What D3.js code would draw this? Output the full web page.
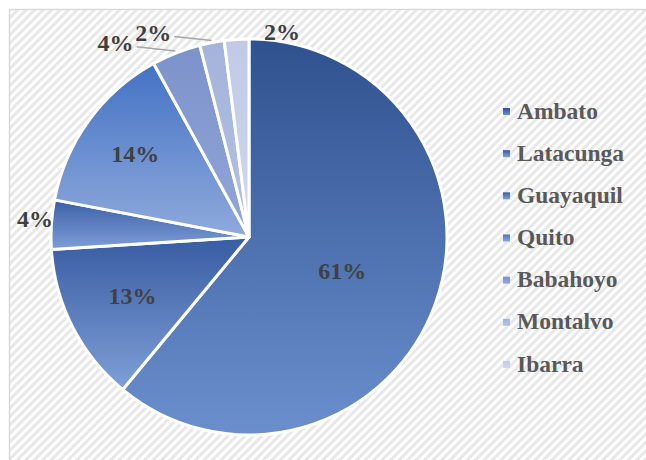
<!DOCTYPE html>
<html>
<head>
<meta charset="utf-8">
<script src="https://cdn.jsdelivr.net/npm/d3@7"></script>
<style>
  html, body { margin: 0; padding: 0; background: #fff; }
  svg { display: block; }
  text { font-family: "Liberation Serif", serif; font-weight: bold; }
</style>
</head>
<body>
<svg id="chart" width="646" height="460"></svg>
<script>
// Share of respondents by city (%)
const cities = ["Ambato", "Latacunga", "Guayaquil", "Quito", "Babahoyo", "Montalvo", "Ibarra"];
const shares = [61, 13, 4, 14, 4, 2, 2];

// Slice shading: each slice fades from a darker top to a lighter bottom
const shadeTop    = ["#2f528f", "#385ca2", "#3b60a8", "#4472c4", "#7c92ca", "#a4b3da", "#c0cae6"];
const shadeBottom = ["#6a8fcc", "#7f9fd6", "#7f9ed6", "#8faadc", "#92a6d8", "#b4c1e3", "#d0d8ee"];

// Label placement around the pie: radius as a fraction of R, optional angle shift (deg), leader line
const labelPlace = [
  { r: 0.50 },
  { r: 0.66 },
  { r: 1.085, da: 1.2 },
  { r: 0.71 },
  { r: 1.19, da: -12.9, leader: true },
  { r: 1.14, da: -14.3, leader: true },
  { r: 1.05, da: 12.7 }
];

const svg = d3.select("#chart");
const W = 646, H = 460;
const cx = 249, cy = 237, R = 198;

const defs = svg.append("defs");

// Diagonal hatch for the chart area
const pat = defs.append("pattern")
  .attr("id", "hatch")
  .attr("patternUnits", "userSpaceOnUse")
  .attr("width", 6).attr("height", 6)
  .attr("patternTransform", "rotate(-45)");
pat.append("rect").attr("width", 6).attr("height", 6).attr("fill", "#ffffff");
pat.append("rect").attr("width", 6).attr("height", 3).attr("fill", "#e8e8e8");

cities.forEach((c, i) => {
  const g = defs.append("linearGradient")
    .attr("id", "grad" + i)
    .attr("x1", 0).attr("y1", 0).attr("x2", 0).attr("y2", 1);
  g.append("stop").attr("offset", "0%").attr("stop-color", shadeTop[i]);
  g.append("stop").attr("offset", "100%").attr("stop-color", shadeBottom[i]);
});

// Chart area frame
svg.append("rect")
  .attr("x", 9.5).attr("y", 9.5)
  .attr("width", W + 40).attr("height", H + 40)
  .attr("fill", "url(#hatch)")
  .attr("stroke", "#d9d9d9")
  .attr("stroke-width", 1.5);

const data = cities.map((c, i) => ({ city: c, value: shares[i], i }));

const pie = d3.pie().value(d => d.value).sort(null);
const arcs = pie(data);
const arc = d3.arc().innerRadius(0).outerRadius(R);

const gPie = svg.append("g").attr("transform", `translate(${cx},${cy})`);

gPie.selectAll("path.slice")
  .data(arcs)
  .join("path")
  .attr("class", "slice")
  .attr("d", arc)
  .attr("fill", d => `url(#grad${d.data.i})`)
  .attr("stroke", "#ffffff")
  .attr("stroke-width", 3)
  .attr("stroke-linejoin", "round");

const fmt = v => v + "%";
const polar = (ang, r) => [r * Math.sin(ang), -r * Math.cos(ang)];

arcs.forEach((d, k) => {
  const p = labelPlace[k];
  const mid = (d.startAngle + d.endAngle) / 2;
  const ang = mid + (p.da || 0) * Math.PI / 180;
  const [lx, ly] = polar(ang, p.r * R);

  if (p.leader) {
    const [ex, ey] = polar(mid, R + 2);
    gPie.append("line")
      .attr("x1", lx + 21).attr("y1", ly + 4)
      .attr("x2", ex).attr("y2", ey)
      .attr("stroke", "#a6a6a6")
      .attr("stroke-width", 1.5);
  }

  gPie.append("text")
    .attr("x", lx).attr("y", ly + 8)
    .attr("text-anchor", "middle")
    .attr("font-size", 24)
    .attr("fill", "#404040")
    .text(fmt(d.data.value));
});

// Legend
const legendY = d3.scalePoint().domain(cities).range([111.5, 364.5]);
const gLeg = svg.append("g");
const rows = gLeg.selectAll("g.row")
  .data(data)
  .join("g")
  .attr("class", "row")
  .attr("transform", d => `translate(503,${legendY(d.city)})`);

rows.append("rect")
  .attr("x", 0).attr("y", -3.5)
  .attr("width", 7).attr("height", 7)
  .attr("fill", d => `url(#grad${d.i})`);

rows.append("text")
  .attr("x", 14).attr("y", 7)
  .attr("font-size", 23.5)
  .attr("fill", "#595959")
  .text(d => d.city);
</script>
</body>
</html>
